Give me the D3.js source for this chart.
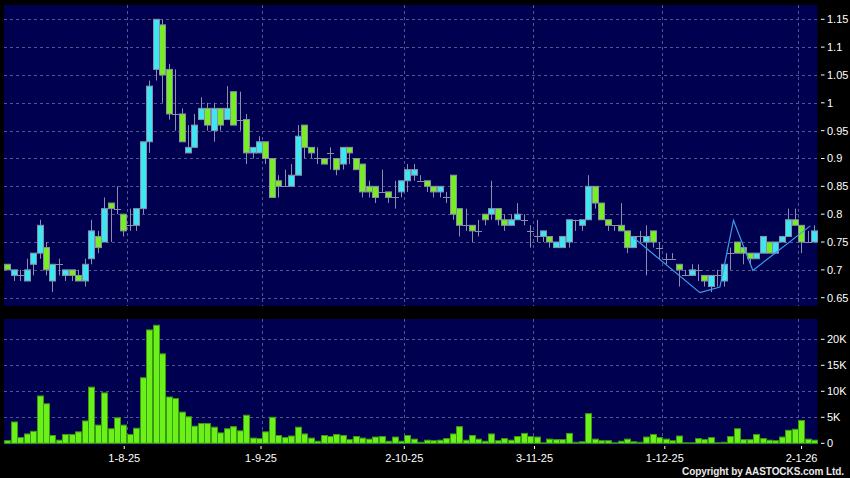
<!DOCTYPE html>
<head>
<meta charset="utf-8">
<title>candles</title>
<script src="https://cdn.jsdelivr.net/npm/d3@7"></script>
<style>
  body { margin: 0; background: #000; }
  text { font-family: "Liberation Sans", Arial, sans-serif; fill: #fff; }
</style>
</head>
<body>
<script>
// daily OHLC, index 0 = first trading day shown
var opens = [.71,.69,.69,.68,.71,.73,.74,.68,.71,.69, .70,.69,.68,.72,.76,.75,.82,.81,.80,.78,
             .78,.81,.93,1.06,1.14,1.06,.98,.98,.91,.92, .97,.99,.95,.99,.97,1.02,.97,.97,.91,.91,
             .93,.90,.86,.85,.85,.87,.96,.92,.90,.90, .91,.90,.89,.92,.90,.89,.85,.85,.84,.84,
             .83,.84,.86,.87,.86,.86,.85,.84,.83,.87, .81,.78,.78,.77,.80,.80,.81,.79,.78,.79,
             .79,.77,.76,.76,.76,.74,.74,.75,.79,.78, .79,.85,.82,.79,.78,.78,.77,.74,.76,.75,
             .77,.74,.72,.72,.71,.69,.69,.70,.69,.67, .69,.68,.73,.75,.74,.73,.72,.73,.75,.73,
             .75,.76,.79,.78,.75,.75];
var highs = [.71,.70,.70,.72,.73,.79,.75,.71,.72,.70, .70,.70,.72,.79,.77,.83,.82,.85,.80,.81,
             .81,.93,1.04,1.15,1.15,1.07,1.06,.99,.96,.98, 1.01,1.00,1.00,.99,1.03,1.02,1.02,.98,.92,.94,
             .93,.90,.87,.88,.89,.96,.96,.92,.92,.90, .92,.90,.92,.92,.90,.89,.86,.85,.88,.84,
             .86,.86,.89,.89,.87,.86,.85,.85,.84,.87, .81,.81,.78,.79,.80,.86,.81,.80,.80,.82,
             .80,.78,.79,.77,.76,.75,.76,.79,.79,.79, .87,.85,.82,.79,.78,.82,.77,.76,.77,.78,
             .77,.75,.73,.73,.71,.70,.71,.71,.69,.69, .70,.71,.74,.75,.74,.73,.73,.76,.75,.75,
             .76,.81,.81,.78,.77,.78];
var lows =  [.70,.68,.68,.68,.69,.72,.69,.66,.69,.68, .68,.68,.67,.71,.73,.75,.75,.80,.76,.77,
             .77,.80,.91,1.04,1.00,.97,.95,.93,.91,.92, .97,.95,.93,.95,.97,.96,.95,.89,.90,.91,
             .89,.83,.83,.85,.85,.87,.90,.90,.89,.89, .88,.87,.88,.89,.88,.83,.83,.82,.84,.82,
             .81,.83,.84,.86,.86,.84,.83,.83,.82,.79, .76,.77,.75,.76,.78,.79,.78,.77,.78,.79,
             .78,.74,.75,.75,.74,.74,.74,.74,.77,.77, .79,.81,.79,.77,.77,.77,.73,.74,.75,.69,
             .74,.72,.71,.72,.67,.69,.69,.68,.67,.66, .67,.67,.70,.73,.71,.71,.72,.73,.73,.73,
             .75,.76,.78,.73,.75,.75];
var closes = [.70,.70,.69,.70,.73,.78,.70,.71,.71,.70, .69,.68,.71,.77,.74,.81,.81,.81,.77,.78,
             .81,.93,1.03,1.15,1.05,.98,.98,.93,.92,.96, .99,.96,.99,.96,.99,.96,.97,.91,.92,.93,
             .90,.83,.85,.85,.87,.94,.92,.91,.90,.89, .91,.88,.92,.91,.88,.84,.84,.83,.84,.83,
             .83,.86,.88,.88,.86,.85,.84,.85,.83,.80, .78,.78,.77,.77,.79,.81,.79,.78,.79,.80,
             .79,.77,.76,.77,.75,.75,.76,.79,.79,.79, .85,.82,.79,.78,.78,.77,.74,.76,.76,.76,
             .75,.74,.72,.72,.70,.69,.70,.70,.68,.69, .69,.71,.73,.73,.73,.72,.73,.76,.73,.75,
             .76,.79,.78,.75,.75,.77];
// volume in thousands of shares
var volumes = [0.5,4.1,1.1,1.8,2.3,9.1,7.6,1.5,0.6,1.7, 1.7,2.2,4.3,10.8,3.5,9.7,2.8,4.9,3.5,1.7,
             2.9,12.6,21.8,22.7,17.2,8.9,8.6,6.0,5.1,3.3, 3.8,3.8,3.1,2.0,2.8,3.2,2.4,5.4,1.0,0.9,
             2.2,5.0,1.5,1.1,1.4,3.1,1.8,1.0,0.4,1.5, 1.3,1.7,1.5,0.7,1.3,1.0,0.8,1.2,1.3,0.4,
             1.2,0.4,1.5,0.8,0.2,0.6,0.5,0.6,0.9,1.8, 3.2,0.6,1.5,0.8,0.4,1.8,0.5,0.9,0.6,1.3,
             1.9,1.3,1.2,0.1,0.8,0.7,0.7,1.9,0.2,0.3, 5.7,0.8,0.5,0.5,0.1,0.4,0.8,0.3,0.2,1.2,
             1.7,1.1,0.8,0.5,1.4,0.1,0.1,0.9,0.7,1.1, 0.1,0.2,1.3,2.8,0.7,0.7,1.7,0.9,0.6,0.5,
             1.2,2.5,2.7,4.4,0.8,0.6];
// month-start ticks on the date axis
var dateTickIdx = [19, 40, 62, 82, 102, 123];
var dateTickLabels = ["1-8-25", "1-9-25", "2-10-25", "3-11-25", "1-12-25", "2-1-26"];
var priceTicks = [0.65, 0.7, 0.75, 0.8, 0.85, 0.9, 0.95, 1, 1.05, 1.1, 1.15];
var volTicks = [0, 5, 10, 15, 20];
var volTickLabels = ["0", "5K", "10K", "15K", "20K"];
// hand-drawn pattern line (index, price)
var patternIdx = [97, 107.3, 110.4, 112.5, 115.5, 124.4];
var patternPrice = [0.758, 0.659, 0.669, 0.789, 0.699, 0.779];

var W = 850, H = 478;
var left = 4, right = 817.4;
var upColor = "#3ce6f2", downColor = "#77ee22", edge = "#8a8ea8";

var svg = d3.select("body").append("svg").attr("width", W).attr("height", H)
    .style("display", "block").style("background", "#000");

var n = closes.length;
var x = d3.scaleBand().domain(d3.range(n)).range([left, right]).padding(0);
var bw = x.bandwidth();
var cx = function(i) { return x(i) + bw / 2; };
var xAxisScale = d3.scaleLinear().domain([0, n]).range([0, 820.6]);

var y = d3.scaleLinear().domain([0.65, 1.15]).range([297.7, 19.3]);
var yv = d3.scaleLinear().domain([0, 20]).range([443.3, 339.3]);

// panels
svg.append("rect").attr("x", left).attr("y", 5).attr("width", right - left).attr("height", 301)
    .attr("fill", "#000050");
svg.append("rect").attr("x", left).attr("y", 319).attr("width", right - left).attr("height", 126)
    .attr("fill", "#000050");

var gridStyle = function(sel) {
    return sel.attr("stroke", "#55558f").attr("stroke-width", 1).attr("stroke-dasharray", "3,3");
};

// horizontal grid
gridStyle(svg.append("g").selectAll("line").data(priceTicks).enter().append("line")
    .attr("x1", left).attr("x2", right)
    .attr("y1", function(d) { return Math.round(y(d)) + 0.5; })
    .attr("y2", function(d) { return Math.round(y(d)) + 0.5; }));
gridStyle(svg.append("g").selectAll("line").data(volTicks.slice(1)).enter().append("line")
    .attr("x1", left).attr("x2", right)
    .attr("y1", function(d) { return Math.round(yv(d)) + 0.5; })
    .attr("y2", function(d) { return Math.round(yv(d)) + 0.5; }));

// vertical grid
gridStyle(svg.append("g").selectAll("line").data(dateTickIdx).enter().append("line")
    .attr("x1", function(d) { return Math.round(x(d)) + 0.5; })
    .attr("x2", function(d) { return Math.round(x(d)) + 0.5; })
    .attr("y1", 5).attr("y2", 306));
gridStyle(svg.append("g").selectAll("line").data(dateTickIdx).enter().append("line")
    .attr("x1", function(d) { return Math.round(x(d)) + 0.5; })
    .attr("x2", function(d) { return Math.round(x(d)) + 0.5; })
    .attr("y1", 319).attr("y2", 445));

// candles
var candles = svg.append("g").selectAll("g").data(d3.range(n)).enter().append("g");
candles.append("line")
    .attr("x1", function(i) { return Math.round(cx(i)) + 0.5; })
    .attr("x2", function(i) { return Math.round(cx(i)) + 0.5; })
    .attr("y1", function(i) { return y(highs[i]); })
    .attr("y2", function(i) { return y(lows[i]); })
    .attr("stroke", edge).attr("stroke-width", 1);
candles.filter(function(i) { return opens[i] !== closes[i]; })
    .append("rect")
    .attr("x", function(i) { return Math.round(cx(i)) - 2.5; })
    .attr("width", 6)
    .attr("y", function(i) { return y(Math.max(opens[i], closes[i])); })
    .attr("height", function(i) { return Math.abs(y(opens[i]) - y(closes[i])); })
    .attr("fill", function(i) { return closes[i] > opens[i] ? upColor : downColor; })
    .attr("stroke", edge).attr("stroke-width", 1);
candles.filter(function(i) { return opens[i] === closes[i]; })
    .append("line")
    .attr("x1", function(i) { return Math.round(cx(i)) - 3; })
    .attr("x2", function(i) { return Math.round(cx(i)) + 4; })
    .attr("y1", function(i) { return Math.round(y(closes[i])) + 0.5; })
    .attr("y2", function(i) { return Math.round(y(closes[i])) + 0.5; })
    .attr("stroke", edge).attr("stroke-width", 1);

// pattern line
var pts = patternIdx.map(function(d, k) { return [d, patternPrice[k]]; });
svg.append("path").datum(pts)
    .attr("d", d3.line().x(function(d) { return x(0) + (d[0] + 0.5) * bw; }).y(function(d) { return y(d[1]); }))
    .attr("fill", "none").attr("stroke", "#3f9be8").attr("stroke-width", 1.2);

// volume bars
svg.append("g").selectAll("rect").data(d3.range(n)).enter().append("rect")
    .attr("x", function(i) { return Math.round(cx(i)) - 2.5; })
    .attr("width", 6)
    .attr("y", function(i) { return yv(volumes[i]); })
    .attr("height", function(i) { return yv(0) - yv(volumes[i]); })
    .attr("fill", "#6cf01a").attr("stroke", "#3a9a10").attr("stroke-width", 1);

// right axes
var pAxis = svg.append("g").selectAll("g").data(priceTicks).enter().append("g")
    .attr("transform", function(d) { return "translate(0," + y(d) + ")"; });
pAxis.append("line").attr("x1", 821).attr("x2", 824.5).attr("stroke", "#fff");
pAxis.append("text").attr("x", 827).attr("dy", "0.36em").attr("font-size", 11)
    .text(function(d) { return String(+d.toFixed(2)); });

var vAxis = svg.append("g").selectAll("g").data(volTicks).enter().append("g")
    .attr("transform", function(d) { return "translate(0," + yv(d) + ")"; });
vAxis.append("line").attr("x1", 821).attr("x2", 824.5).attr("stroke", "#fff");
vAxis.append("text").attr("x", 827).attr("dy", "0.36em").attr("font-size", 11)
    .text(function(d, k) { return volTickLabels[k]; });

// date axis
var xAxis = d3.axisBottom(xAxisScale).tickValues(dateTickIdx).tickSize(3).tickPadding(5)
    .tickFormat(function(d, k) { return dateTickLabels[k]; });
var gx = svg.append("g").attr("transform", "translate(0,446)").call(xAxis);
gx.select(".domain").remove();
gx.selectAll(".tick line").attr("stroke", "#fff");
gx.selectAll(".tick text").attr("font-size", 11).attr("fill", "#fff")
    .attr("font-family", "Liberation Sans, Arial, sans-serif");

svg.append("text").attr("x", 844).attr("y", 475).attr("text-anchor", "end")
    .attr("font-size", 10).attr("font-weight", "bold").attr("textLength", 162)
    .attr("lengthAdjust", "spacing").style("fill", "#e8e8e8")
    .text("Copyright by AASTOCKS.com Ltd.");
</script>
</body>
